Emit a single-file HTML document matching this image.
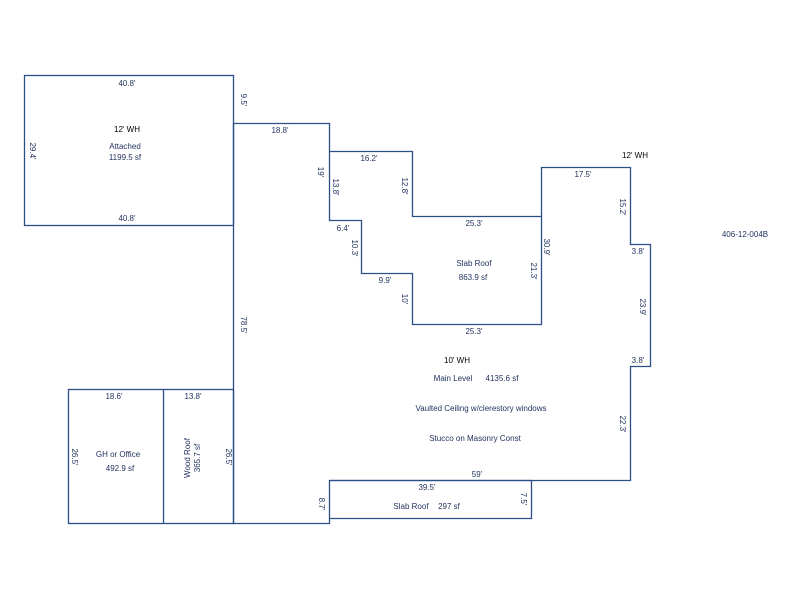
<!DOCTYPE html>
<html><head><meta charset="utf-8"><style>
body{margin:0;background:#fff}
svg text{font-family:"Liberation Sans",sans-serif;font-size:8px;fill:#1d2f5a}
</style></head><body>
<svg width="800" height="600" viewBox="0 0 800 600" xmlns="http://www.w3.org/2000/svg">
<g fill="none" stroke="#2b4f88" stroke-width="1.3">
<rect x="24.5" y="75.5" width="209" height="150"/>
<polyline points="233.5,123.5 329.5,123.5 329.5,220.5 361.5,220.5 361.5,273.5 412.5,273.5 412.5,324.5 541.5,324.5 541.5,167.5 630.5,167.5 630.5,244.5 650.5,244.5 650.5,366.5 630.5,366.5 630.5,480.5 329.5,480.5 329.5,523.5 233.5,523.5 233.5,123.5"/>
<polyline points="329.5,151.5 412.5,151.5 412.5,216.5 541.5,216.5"/>
<rect x="68.5" y="389.5" width="165" height="134"/>
<line x1="163.5" y1="389.5" x2="163.5" y2="523.5"/>
<polyline points="329.5,480.5 531.5,480.5 531.5,518.5 329.5,518.5"/>
</g>
<g text-anchor="middle">
<text x="127" y="86">40.8'</text>
<text x="127" y="221">40.8'</text>
<text x="127" y="132" style="fill:#000">12' WH</text>
<text x="125" y="149">Attached</text>
<text x="125" y="160">1199.5 sf</text>
<text x="280" y="133">18.8'</text>
<text x="369" y="161">16.2'</text>
<text x="343" y="231">6.4'</text>
<text x="385" y="283">9.9'</text>
<text x="474" y="226">25.3'</text>
<text x="474" y="334">25.3'</text>
<text x="474" y="266">Slab Roof</text>
<text x="473" y="280">863.9 sf</text>
<text x="583" y="177">17.5'</text>
<text x="635" y="158" style="fill:#000">12' WH</text>
<text x="638" y="254">3.8'</text>
<text x="638" y="363">3.8'</text>
<text x="745" y="237">406-12-004B</text>
<text x="457" y="363" style="fill:#000">10' WH</text>
<text x="453" y="381">Main Level</text>
<text x="502" y="381">4135.6 sf</text>
<text x="481" y="411">Vaulted Ceiling w/clerestory windows</text>
<text x="475" y="441">Stucco on Masonry Const</text>
<text x="477" y="477">59'</text>
<text x="427" y="490">39.5'</text>
<text x="411" y="509">Slab Roof</text>
<text x="449" y="509">297 sf</text>
<text x="114" y="399">18.6'</text>
<text x="193" y="399">13.8'</text>
<text x="118" y="457">GH or Office</text>
<text x="120" y="471">492.9 sf</text>
</g>
<g text-anchor="middle">
<text transform="translate(241,100) rotate(90)">9.5'</text>
<text transform="translate(30,151) rotate(90)">29.4'</text>
<text transform="translate(318,172) rotate(90)">19'</text>
<text transform="translate(333,187) rotate(90)">13.8'</text>
<text transform="translate(402,186) rotate(90)">12.8'</text>
<text transform="translate(352,248) rotate(90)">10.3'</text>
<text transform="translate(402,299) rotate(90)">10'</text>
<text transform="translate(531,271) rotate(90)">21.3'</text>
<text transform="translate(544,247) rotate(90)">30.9'</text>
<text transform="translate(620,207) rotate(90)">15.2'</text>
<text transform="translate(640,307) rotate(90)">23.9'</text>
<text transform="translate(620,424) rotate(90)">22.3'</text>
<text transform="translate(241,325) rotate(90)">78.5'</text>
<text transform="translate(72,457) rotate(90)">26.5'</text>
<text transform="translate(226,457) rotate(90)">26.5'</text>
<text transform="translate(319,504) rotate(90)">8.7'</text>
<text transform="translate(521,499) rotate(90)">7.5'</text>
<text transform="translate(190,458) rotate(-90)">Wood Roof</text>
<text transform="translate(200,458) rotate(-90)">365.7 sf</text>
</g>
</svg>
</body></html>
